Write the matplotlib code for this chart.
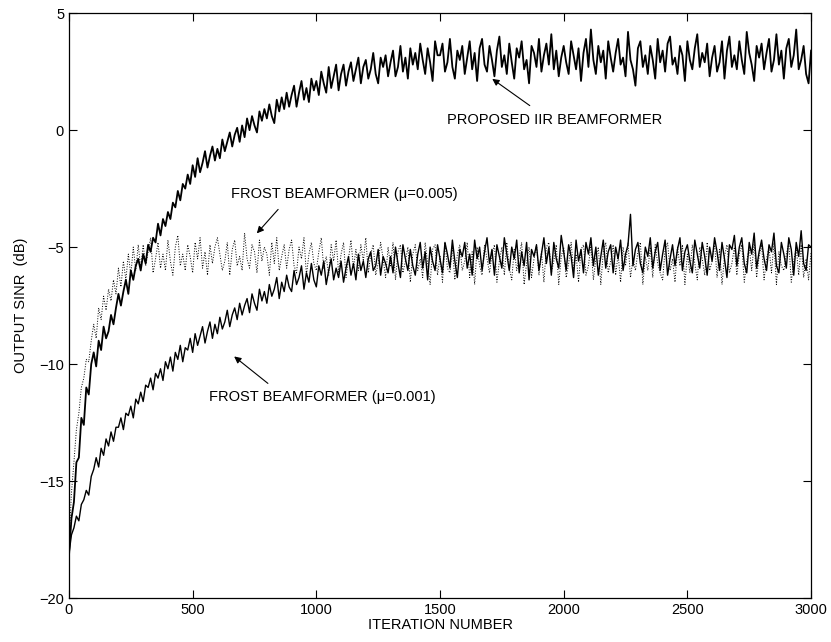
import numpy as np
import matplotlib.pyplot as plt

plt.rcParams['font.family'] = ['Liberation Sans', 'DejaVu Sans']

# iteration grid: one reading every 10 iterations
iterations = np.arange(0, 3001, 10)

# proposed IIR beamformer, output SINR (dB)
sinr_iir = [
    -18.2, -16.6, -15.9, -14.2, -14.0, -12.3, -12.6, -11.0, -11.3, -10.0,
    -9.5, -10.1, -9.0, -9.4, -8.4, -8.9, -8.6, -7.9, -8.3, -7.6,
    -7.0, -7.5, -6.9, -6.4, -7.0, -6.0, -6.4, -5.8, -5.5, -6.0,
    -5.3, -5.7, -4.9, -5.2, -4.6, -4.8, -4.0, -4.5, -3.8, -4.1,
    -3.5, -3.8, -3.1, -3.3, -2.6, -3.0, -2.3, -2.5, -1.9, -2.3,
    -1.5, -2.0, -1.2, -1.8, -1.4, -0.9, -1.6, -1.1, -0.7, -1.3,
    -0.8, -1.2, -0.4, -0.9, -0.5, -0.1, -0.7, -0.2, 0.1, -0.5,
    0.2, -0.3, 0.5, 0.0, 0.6, 0.2, -0.1, 0.8, 0.4, 0.9,
    0.5, 1.1, 0.6, 0.3, 1.3, 0.8, 1.4, 0.9, 1.6, 1.0,
    1.5, 1.9, 1.0, 1.6, 2.1, 1.3, 1.8, 1.2, 2.2, 1.7,
    2.1, 1.5, 2.5, 2.0, 1.6, 2.7, 1.8, 2.3, 2.8, 1.7,
    2.4, 2.8, 1.9, 2.5, 2.9, 2.1, 2.6, 3.1, 2.0, 2.7,
    3.0, 2.2, 2.6, 3.3, 2.4, 2.0, 3.1, 2.7, 3.2, 2.3,
    2.9, 3.4, 2.3, 2.7, 3.6, 2.5, 3.1, 2.2, 3.5, 2.8,
    3.3, 2.6, 3.7, 3.0, 2.4, 3.5, 2.9, 2.1, 3.8, 3.2,
    3.2, 3.7, 2.5, 2.9, 3.9, 2.7, 2.2, 3.4, 3.0, 3.6,
    2.4, 3.1, 3.8, 2.6, 3.3, 2.1, 3.5, 3.9, 2.8, 2.5,
    3.6, 3.0, 2.3, 3.4, 4.0, 2.7, 3.2, 2.4, 3.7, 2.9,
    2.2, 3.5, 3.1, 3.8, 2.6, 3.0, 2.0, 3.6, 3.3, 2.7,
    3.9, 2.5, 3.2, 3.7, 2.8, 4.1, 2.6, 3.4, 2.3, 3.1,
    3.6, 2.9, 2.4, 3.8, 3.2, 2.6, 3.5, 2.1, 3.3, 3.9,
    2.7, 4.3, 3.0, 2.4, 3.6, 2.9, 3.4, 2.2, 3.8, 3.1,
    2.5, 3.3, 3.9, 2.8, 3.1, 2.3, 4.2, 3.0, 2.6, 1.9,
    3.5, 3.8, 2.7, 3.2, 2.4, 3.6, 3.0, 2.2, 3.9, 2.9,
    3.4, 2.5, 3.7, 4.0, 2.8, 3.1, 2.4, 3.6, 3.2, 2.1,
    3.8, 3.0, 2.6, 3.5, 4.1, 2.7, 3.3, 2.9, 3.7, 2.3,
    3.1, 3.6, 2.5, 2.9, 3.8, 2.2, 3.4, 4.0, 2.7, 3.2,
    2.6, 3.8, 3.0, 2.4, 4.2, 3.3, 2.8, 2.1, 3.6, 3.1,
    3.7, 2.6, 3.3, 3.9, 2.5, 3.0, 4.1, 2.8, 3.4, 2.2,
    3.5, 3.9, 2.7, 3.2, 4.3, 2.6, 3.0, 3.6, 2.4, 2.0,
    3.4,
]

# Frost beamformer, mu = 0.001
sinr_frost_001 = [
    -18.1, -17.3, -17.0, -16.5, -16.7, -16.0, -15.8, -15.4, -15.6, -14.8,
    -14.5, -14.0, -14.4, -13.6, -13.9, -13.2, -13.5, -12.9, -13.3, -12.7,
    -12.7, -12.3, -12.8, -12.1, -12.2, -11.8, -12.3, -11.5, -11.7, -11.2,
    -11.6, -10.9, -11.0, -10.6, -11.1, -10.4, -10.6, -10.2, -10.7, -9.9,
    -10.2, -9.7, -10.3, -9.5, -9.8, -9.2, -9.9, -9.3, -9.4, -8.9,
    -9.5, -8.7, -9.2, -8.8, -8.4, -9.1, -8.6, -8.2, -8.9, -8.3,
    -8.7, -8.0, -8.5, -8.2, -7.7, -8.4, -7.9, -7.6, -8.1, -7.4,
    -7.9, -7.5, -7.2, -7.8, -7.0, -7.4, -7.7, -6.8, -7.3, -6.9,
    -7.4, -6.6, -7.1, -6.8, -6.3, -7.2, -6.5, -6.9, -6.2, -6.7,
    -6.9, -6.0, -6.6, -6.3, -5.8, -6.8, -6.1, -6.5, -5.7, -6.4,
    -6.7, -5.8, -6.2, -5.6, -6.6, -6.0, -5.5, -6.4, -5.9, -6.3,
    -5.6, -6.5, -5.9, -5.4, -6.2, -5.7, -6.4, -5.3, -6.0, -5.6,
    -6.3, -5.5, -5.2, -6.0, -5.8, -5.1, -6.2, -5.4, -5.7, -6.1,
    -5.4, -6.1, -5.0, -5.7, -6.3, -4.9, -5.5, -6.0, -5.1, -5.8,
    -6.2, -5.3, -4.8, -5.9, -5.2, -6.4, -5.0, -5.6, -6.0, -4.9,
    -5.5, -6.1, -4.8, -5.3, -5.9, -4.7, -5.6, -6.3, -5.1, -5.4,
    -4.8, -5.9, -5.3, -6.2, -4.7, -5.5, -5.0, -6.0, -5.2, -4.6,
    -5.7, -5.1, -6.2, -4.9, -5.4, -5.9, -4.6, -5.3, -6.0, -5.0,
    -5.5, -4.7, -6.1, -5.2, -5.8, -4.8, -6.4, -5.1, -5.4, -4.9,
    -6.0, -5.3, -4.6, -5.7, -5.0, -6.2, -4.8, -5.5, -5.9, -4.5,
    -5.2, -6.0, -4.9, -5.4, -6.3, -4.7, -5.6, -5.1, -6.1, -4.8,
    -5.3, -4.6, -5.8, -5.0, -6.2, -5.4, -4.7, -5.9, -5.2, -4.9,
    -6.1, -5.0, -5.5, -4.7, -6.0, -5.3, -4.9, -3.6, -5.8, -5.1,
    -4.8, -5.7, -6.1, -5.0, -5.4, -4.6, -5.9, -5.2, -4.8, -6.0,
    -5.3, -4.7, -6.2, -5.5, -4.9, -5.8, -5.1, -4.6, -6.0, -5.2,
    -4.9, -5.6, -6.1, -4.7, -5.3, -5.9, -4.8, -5.4, -6.2, -5.0,
    -5.6, -4.6, -5.2, -6.0, -4.8, -5.5, -6.3, -4.9, -5.1, -4.5,
    -5.8, -5.0, -4.6, -5.7, -6.1, -4.8, -5.3, -4.4, -5.9, -5.2,
    -4.7, -5.5, -6.0, -4.9, -5.2, -4.4, -5.8, -6.1, -4.8, -5.3,
    -5.9, -4.6, -5.1, -6.2, -4.8, -5.4, -4.3, -5.7, -6.0, -4.9,
    -5.0,
]

# Frost beamformer, mu = 0.005 (dotted)
sinr_frost_005 = [
    -17.8, -15.5, -14.2, -12.8, -12.1, -11.0, -10.6, -9.8, -9.9, -9.0,
    -8.3, -8.9, -7.6, -8.1, -7.1, -7.7, -6.8, -7.3, -6.4, -7.0,
    -5.9, -6.7, -5.6, -6.4, -5.3, -6.2, -5.0, -6.0, -4.9, -5.9,
    -4.9, -5.8, -5.2, -4.6, -6.1, -5.5, -4.8, -5.9, -5.3, -6.0,
    -4.7, -5.6, -6.2, -5.0, -4.5, -5.8, -5.3, -6.0, -4.9, -5.4,
    -6.1, -4.8, -5.5, -4.6, -5.9, -5.2, -6.2, -4.9, -5.7, -5.0,
    -4.6, -5.3, -6.0, -5.6, -4.8, -6.2, -5.1, -4.7, -5.8, -5.4,
    -6.0, -4.4, -5.5, -5.9, -4.9, -5.2, -6.1, -4.7, -5.6, -5.0,
    -5.3, -6.2, -4.8, -5.7, -4.6, -6.0, -5.4, -4.9, -5.9, -5.1,
    -4.7, -5.8, -6.1, -5.0, -5.5, -4.6, -6.2, -5.3, -4.8, -5.7,
    -6.0, -5.2, -4.6, -5.9, -5.4, -6.2, -4.9, -5.6, -4.7, -6.1,
    -5.3, -4.8, -6.3, -5.5, -4.7, -5.9, -5.1, -6.0, -4.9, -5.6,
    -4.6, -6.1, -5.3, -4.9, -6.2, -5.7, -4.8, -5.5, -6.3, -5.0,
    -5.8, -4.8, -6.4, -5.2, -4.9, -6.1, -5.6, -5.0, -6.5, -5.3,
    -4.9, -6.0, -5.5, -6.3, -4.8, -5.7, -6.6, -5.1, -4.9, -6.2,
    -5.4, -6.5, -4.8, -5.9, -6.1, -5.0, -6.4, -5.3, -4.9, -6.0,
    -5.6, -4.8, -6.3, -5.2, -6.6, -5.0, -5.8, -6.2, -4.9, -5.5,
    -6.1, -5.3, -4.9, -6.5, -5.6, -5.0, -6.2, -4.8, -5.9, -6.4,
    -5.1, -6.0, -5.4, -4.8, -6.6, -5.7, -5.0, -6.3, -5.5, -4.9,
    -6.2, -5.2, -6.5, -5.0, -4.8, -6.1, -5.6, -4.9, -6.6, -5.4,
    -5.0, -6.3, -5.7, -4.8, -6.0, -5.3, -6.5, -5.1, -4.9, -6.2,
    -5.8, -4.9, -6.4, -5.5, -5.0, -6.6, -5.2, -4.8, -6.1, -5.6,
    -4.9, -6.2, -5.3, -6.5, -5.0, -5.8, -4.8, -6.3, -5.5, -6.0,
    -5.2, -4.8, -6.6, -5.4, -6.0, -5.0, -6.3, -4.9, -5.7, -6.1,
    -6.4, -5.1, -4.8, -6.0, -5.5, -6.5, -5.0, -5.8, -4.9, -6.6,
    -5.3, -6.1, -4.9, -5.7, -6.4, -5.0, -5.5, -6.2, -4.8, -6.0,
    -5.6, -4.8, -6.3, -5.1, -6.6, -5.4, -4.9, -6.1, -5.7, -5.0,
    -6.2, -5.3, -4.9, -6.5, -5.6, -5.0, -6.0, -4.8, -6.3, -5.4,
    -4.9, -6.4, -5.5, -5.0, -6.1, -4.8, -6.6, -5.2, -5.8, -6.0,
    -5.3, -4.8, -6.5, -5.6, -5.0, -6.2, -4.9, -6.3, -5.5, -6.4,
    -5.2,
]

fig = plt.figure(figsize=(8.31, 6.42), dpi=100)
ax = fig.add_axes([0.083, 0.0685, 0.893, 0.911])

ax.plot(iterations, sinr_frost_005, color='black', linestyle=':', linewidth=0.7)
ax.plot(iterations, sinr_frost_001, color='black', linewidth=1.0)
ax.plot(iterations, sinr_iir, color='black', linewidth=1.3)

ax.set_xlim(0, 3000)
ax.set_ylim(-20, 5)
ax.set_xticks([0, 500, 1000, 1500, 2000, 2500, 3000])
ax.set_yticks([-20, -15, -10, -5, 0, 5])
ax.set_yticklabels(['\u221220', '\u221215', '\u221210', '\u22125', '0', '5'])
ax.tick_params(direction='in', top=True, right=True, length=6, width=0.8, labelsize=10.5)
for s in ax.spines.values():
    s.set_linewidth(0.9)

ax.set_xlabel('ITERATION NUMBER', fontsize=10.5, labelpad=1)
ax.set_ylabel('OUTPUT SINR  (dB)', fontsize=10.5, labelpad=8)

arrow = dict(arrowstyle='-|>', color='black', lw=0.8, mutation_scale=10)
ax.annotate('PROPOSED IIR BEAMFORMER', xy=(1702, 2.26), xytext=(1528, 0.43),
            fontsize=10.5, va='center', ha='left')
ax.annotate('', xy=(1702, 2.26), xytext=(1872, 0.98), arrowprops=arrow)

ax.annotate('FROST BEAMFORMER (\u03bc=0.005)', xy=(752, -4.5), xytext=(655, -2.75),
            fontsize=10.5, va='center', ha='left')
ax.annotate('', xy=(752, -4.5), xytext=(853, -3.3), arrowprops=arrow)

ax.annotate('FROST BEAMFORMER (\u03bc=0.001)', xy=(659, -9.6), xytext=(566, -11.4),
            fontsize=10.5, va='center', ha='left')
ax.annotate('', xy=(659, -9.6), xytext=(813, -10.9), arrowprops=arrow)

fig.savefig('out.png', dpi=100)
